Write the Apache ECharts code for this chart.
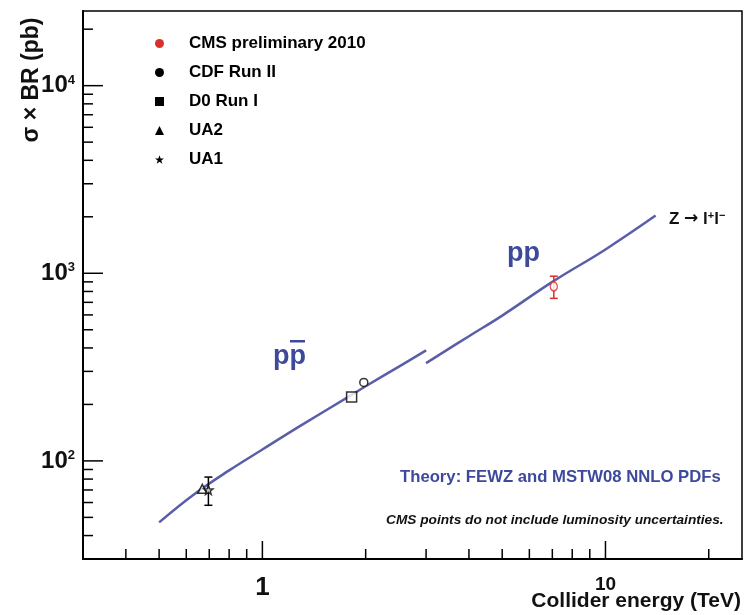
<!DOCTYPE html>
<html>
<head>
<meta charset="utf-8">
<script src="https://cdn.jsdelivr.net/npm/echarts@6/dist/echarts.min.js"></script>
<style>
  html, body { margin: 0; padding: 0; background: #fff; }
  #chart { width: 745px; height: 615px; }
</style>
</head>
<body>
<div id="chart"></div>
<script>
// Z -> l+l- cross section times branching ratio vs collider energy

// Theory curves (FEWZ, MSTW08 NNLO): p-pbar and p-p
const ppbarEnergy = [0.5, 0.63, 0.8, 1.0, 1.3, 1.8, 2.0, 2.5, 3.0];
const ppbarSigma  = [47, 66, 89, 115, 155, 222, 250, 318, 388];
const ppEnergy    = [3, 4, 5, 7, 10, 14];
const ppSigma     = [332, 462, 595, 900, 1340, 2030];

// Measurements
const expNames  = ['CMS preliminary 2010', 'CDF Run II', 'D0 Run I', 'UA2', 'UA1'];
const expEnergy = [7.07, 1.975, 1.82, 0.668, 0.696];
const expSigma  = [850, 262, 219, 71, 70];
const expError  = [115, 0, 0, 0, 12];

// Axis ranges and tick positions
const xRange = [0.3, 25];
const yRange = [30, 25000];
const xMajorTicks = [1, 10];
const xMinorTicks = [0.4, 0.5, 0.6, 0.7, 0.8, 0.9, 2, 3, 4, 5, 6, 7, 8, 9, 20];
const yMajorTicks = [100, 1000, 10000];
const yMinorTicks = [40, 50, 60, 70, 80, 90, 200, 300, 400, 500, 600, 700, 800, 900,
                     2000, 3000, 4000, 5000, 6000, 7000, 8000, 9000, 20000];

const FONT = '"Liberation Sans", Arial, Helvetica, sans-serif';
const BLUE_LINE = '#5a5ea8';
const BLUE_TEXT = '#3d4a9c';
const RED = '#d9302c';

const chart = echarts.init(document.getElementById('chart'), null, { renderer: 'canvas' });

function isPow10(v) {
  const l = Math.log10(v);
  return Math.abs(l - Math.round(l)) < 1e-6;
}

const xTickData = xMajorTicks.map(v => [v, yRange[0], 1]).concat(xMinorTicks.map(v => [v, yRange[0], 0]));
const yTickData = yMajorTicks.map(v => [xRange[0], v, 1]).concat(yMinorTicks.map(v => [xRange[0], v, 0]));

const symbols = ['circle', 'circle', 'rect', 'triangle',
  'path://M0,-10L2.35,-3.24L9.51,-3.09L3.8,1.24L5.88,8.09L0,4L-5.88,8.09L-3.8,1.24L-9.51,-3.09L-2.35,-3.24Z'];
const symbolSizes = [[7, 9], 8, 10, 9, 9];
const colors = [RED, '#000', '#000', '#000', '#000'];

const scatterSeries = expNames.map((name, i) => ({
  name: name,
  type: 'scatter',
  data: [[expEnergy[i], expSigma[i]]],
  symbol: symbols[i],
  symbolSize: symbolSizes[i],
  itemStyle: { color: '#fff', borderColor: colors[i], borderWidth: 1.5 },
  z: 5,
  silent: true
}));

const option = {
  animation: false,
  backgroundColor: '#fff',
  grid: {
    left: 83, right: 3, top: 11, bottom: 56,
    show: true, borderColor: '#000', borderWidth: 1.5, backgroundColor: '#fff'
  },
  legend: {
    orient: 'vertical',
    left: 150, top: 30,
    itemWidth: 9, itemHeight: 9, itemGap: 12,
    selectedMode: false,
    textStyle: { fontSize: 17, fontWeight: 'bold', fontFamily: FONT, color: '#000', padding: [0, 0, 0, 20] },
    data: expNames.map((name, i) => ({
      name: name,
      icon: symbols[i],
      itemStyle: { color: colors[i], borderWidth: 0, opacity: 1 }
    }))
  },
  xAxis: {
    type: 'log', logBase: 10,
    min: xRange[0], max: xRange[1],
    axisLine: { lineStyle: { color: '#000', width: 2 } },
    axisTick: { show: false },
    splitLine: { show: false },
    axisLabel: {
      margin: 16,
      color: '#111',
      fontFamily: FONT,
      formatter: function (v) {
        if (!isPow10(v)) return '';
        return Math.abs(v - 1) < 1e-6 ? '{a|1}' : '{b|' + Math.round(v) + '}';
      },
      rich: {
        a: { fontSize: 26, fontWeight: 'bold', fontFamily: FONT, color: '#111' },
        b: { fontSize: 19, fontWeight: 'bold', fontFamily: FONT, color: '#111' }
      }
    }
  },
  yAxis: {
    type: 'log', logBase: 10,
    min: yRange[0], max: yRange[1],
    axisLine: { lineStyle: { color: '#000', width: 2 } },
    axisTick: { show: false },
    splitLine: { show: false },
    axisLabel: {
      margin: 8,
      color: '#111',
      formatter: function (v) {
        if (!isPow10(v)) return '';
        return '{b|10}{s|' + Math.round(Math.log10(v)) + '}';
      },
      rich: {
        b: { fontSize: 24, fontWeight: 'bold', fontFamily: FONT, color: '#111' },
        s: { fontSize: 13, fontWeight: 'bold', fontFamily: FONT, color: '#111', verticalAlign: 'top' }
      }
    }
  },
  series: [
    {
      name: 'ppbar theory', type: 'line',
      data: ppbarEnergy.map((x, i) => [x, ppbarSigma[i]]),
      showSymbol: false, smooth: 0.4,
      lineStyle: { color: BLUE_LINE, width: 2.5 },
      z: 2, silent: true
    },
    {
      name: 'pp theory', type: 'line',
      data: ppEnergy.map((x, i) => [x, ppSigma[i]]),
      showSymbol: false, smooth: 0.4,
      lineStyle: { color: BLUE_LINE, width: 2.5 },
      z: 2, silent: true
    },
    {
      // error bars
      name: 'errors', type: 'custom', z: 4, silent: true,
      data: expEnergy.map((x, i) => [x, expSigma[i], expError[i], i]),
      encode: { x: 0, y: 1 },
      renderItem: function (params, api) {
        const err = api.value(2);
        if (!err) return null;
        const x = api.value(0), y = api.value(1);
        const color = colors[api.value(3)];
        const top = api.coord([x, y + err]);
        const bot = api.coord([x, y - err]);
        const w = 4;
        const style = { stroke: color, lineWidth: 1.5 };
        return {
          type: 'group',
          children: [
            { type: 'line', shape: { x1: top[0], y1: top[1], x2: bot[0], y2: bot[1] }, style: style },
            { type: 'line', shape: { x1: top[0] - w, y1: top[1], x2: top[0] + w, y2: top[1] }, style: style },
            { type: 'line', shape: { x1: bot[0] - w, y1: bot[1], x2: bot[0] + w, y2: bot[1] }, style: style }
          ]
        };
      }
    },
    {
      // x axis tick marks
      name: 'xticks', type: 'custom', z: 6, silent: true, clip: false,
      data: xTickData, encode: { x: 0, y: 1 },
      renderItem: function (params, api) {
        const p = api.coord([api.value(0), api.value(1)]);
        const len = api.value(2) ? 18 : 10;
        return { type: 'line', shape: { x1: p[0], y1: p[1], x2: p[0], y2: p[1] - len },
                 style: { stroke: '#000', lineWidth: 1.5 } };
      }
    },
    {
      // y axis tick marks
      name: 'yticks', type: 'custom', z: 6, silent: true, clip: false,
      data: yTickData, encode: { x: 0, y: 1 },
      renderItem: function (params, api) {
        const p = api.coord([api.value(0), api.value(1)]);
        const len = api.value(2) ? 20 : 10;
        return { type: 'line', shape: { x1: p[0], y1: p[1], x2: p[0] + len, y2: p[1] },
                 style: { stroke: '#000', lineWidth: 1.5 } };
      }
    }
  ].concat(scatterSeries),
  graphic: [
    {
      type: 'text', x: 32, y: 80, rotation: Math.PI / 2,
      style: { text: 'σ × BR (pb)', font: 'bold 23px ' + FONT, fill: '#111',
               align: 'center', verticalAlign: 'middle', textAlign: 'center', textVerticalAlign: 'middle' }
    },
    {
      type: 'text', x: 741, y: 601,
      style: { text: 'Collider energy (TeV)', font: 'bold 21px ' + FONT, fill: '#111',
               align: 'right', verticalAlign: 'middle', textAlign: 'right', textVerticalAlign: 'middle' }
    },
    {
      type: 'text', x: 273, y: 370,
      style: { text: 'pp', font: 'bold 27px ' + FONT, fill: BLUE_TEXT,
               align: 'left', verticalAlign: 'bottom', textAlign: 'left', textVerticalAlign: 'bottom' }
    },
    {
      type: 'rect', shape: { x: 290, y: 340, width: 15, height: 2.5 },
      style: { fill: BLUE_TEXT }
    },
    {
      type: 'text', x: 507, y: 267,
      style: { text: 'pp', font: 'bold 27px ' + FONT, fill: BLUE_TEXT,
               align: 'left', verticalAlign: 'bottom', textAlign: 'left', textVerticalAlign: 'bottom' }
    },
    {
      type: 'text', x: 669, y: 219,
      style: {
        text: '{n|Z }{a|→}{n| l}{s|+}{n|l}{s|−}',
        rich: {
          n: { fontSize: 17, fontWeight: 'bold', fontFamily: FONT, fill: '#111', color: '#111' },
          a: { fontSize: 17, fontWeight: 'bold', fontFamily: '"DejaVu Sans", ' + FONT, fill: '#111', color: '#111' },
          s: { fontSize: 11, fontWeight: 'bold', fontFamily: FONT, fill: '#111', color: '#111', verticalAlign: 'top' }
        },
        align: 'left', verticalAlign: 'middle', textAlign: 'left', textVerticalAlign: 'middle'
      }
    },
    {
      type: 'text', x: 400, y: 477,
      style: { text: 'Theory: FEWZ and MSTW08 NNLO PDFs', font: 'bold 16.7px ' + FONT, fill: BLUE_TEXT,
               align: 'left', verticalAlign: 'middle', textAlign: 'left', textVerticalAlign: 'middle' }
    },
    {
      type: 'text', x: 386, y: 520,
      style: { text: 'CMS points do not include luminosity uncertainties.', font: 'italic bold 13.7px ' + FONT, fill: '#111',
               align: 'left', verticalAlign: 'middle', textAlign: 'left', textVerticalAlign: 'middle' }
    }
  ]
};

chart.setOption(option);
</script>
</body>
</html>
